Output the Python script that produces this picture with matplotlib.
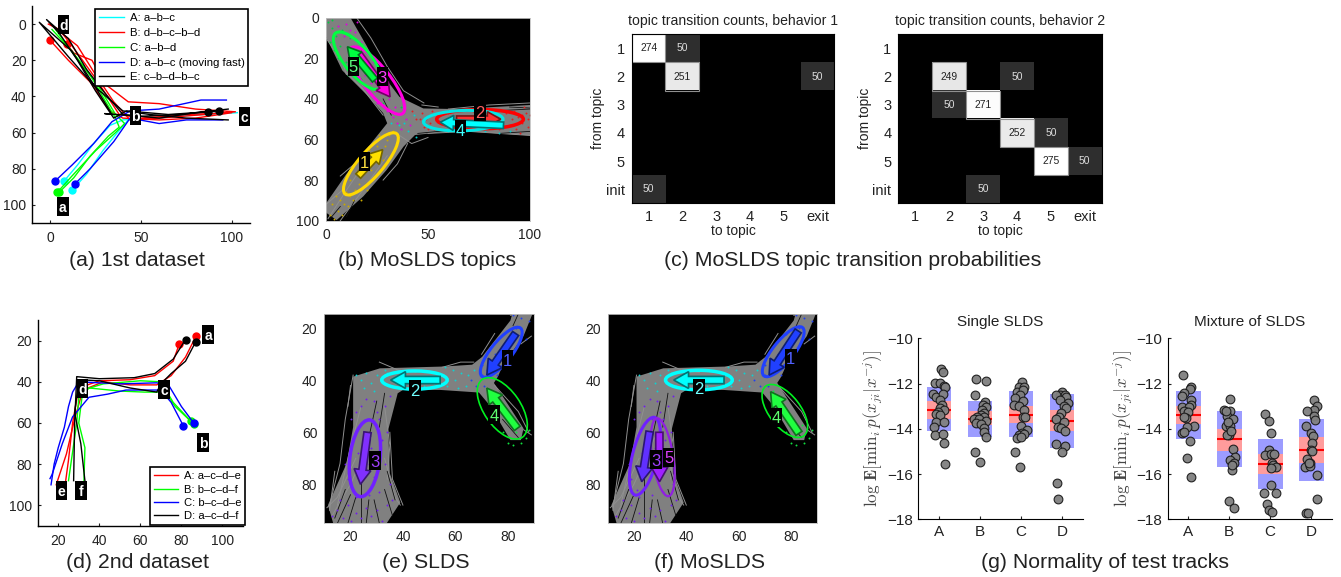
import numpy as np
import matplotlib
matplotlib.use('Agg')
import matplotlib.pyplot as plt
from matplotlib.patches import Ellipse, Rectangle
from matplotlib.transforms import ScaledTranslation

plt.rcParams['font.family'] = ['Liberation Sans', 'DejaVu Sans']
plt.rcParams['mathtext.fontset'] = 'cm'

W, H = 1341, 577

### panel a: example tracks, 1st dataset
a_tracks = {
    'A': [[(12,92),(20,83),(29,70),(37,60),(43,53),(55,52),(70,51),(85,50),(103,49)],
          [(7.5,87),(15,78),(24,66),(33,56),(40,53),(60,52),(80,50),(95,49)]],
    'B': [[(9,11),(13,16),(23,20),(30,33),(43,43),(60,44),(80,47),(102,48.5),(85,50),(60,52),(44,53),(35,43),(25,28),(15,12),(0,0)],
          [(0,9),(10,20),(22,32),(33,48),(40,52),(60,53),(80,52),(100,49),(75,50),(50,52),(38,50),(25,30),(12,12),(5,3),(-1,0)]],
    'C': [[(5,93),(13,85),(22,73),(32,62),(38,57),(36,52),(30,42),(22,28),(12,15),(1,3)],
          [(4,93),(12,84),(25,70),(36,60),(41,55),(36,50),(27,35),(17,22),(8,10),(3,3)]],
    'D': [[(2.5,87),(12,78),(24,66),(34,54),(44,48),(60,47),(83,42),(97,42)],
          [(13.5,88.5),(22,80),(35,65),(44,52),(60,55),(75,53),(95,53)]],
    'E': [[(93,48),(70,50),(50,51),(30,49.5),(34,50),(25,35),(12,15),(-6,-1),(10,18),(25,35),(40,48),(55,50),(75,52),(98,53)],
          [(87,48.5),(65,50),(42,48),(35,52),(25,37),(15,20),(5,5),(-2,-2.5),(10,8),(20,25),(30,38),(40,50),(60,52),(80,49),(98,47)]],
}
a_labels = {'A': 'A: a–b–c', 'B': 'B: d–b–c–b–d', 'C': 'C: a–b–d',
            'D': 'D: a–b–c (moving fast)', 'E': 'E: c–b–d–b–c'}
a_colors = {'A': '#00ffff', 'B': '#ff0000', 'C': '#00ff00', 'D': '#0000ff', 'E': '#000000'}
a_nodes = [('d', 7.4, 0.4), ('b', 47, 50.5), ('c', 107, 51), ('a', 7, 101)]

### panel d: example tracks, 2nd dataset
d_tracks = {
    'A': [[(87,18),(82,28),(75,37),(68,41.5),(55,41.5),(42,40),(32,44),(28,58),(24,75),(19,90)],
          [(79,21.5),(76,30),(67,37),(55,39),(40,39.5),(30,43),(27,60),(25,78),(23.5,89)]],
    'B': [[(84.5,59),(76,50),(70,40),(60,39.5),(42,41),(32,44),(30,60),(33,72),(32.5,89)],
          [(86,60.5),(77,52),(72,45),(62,45),(50,44.5),(35,43),(30,48),(29,60),(25,88)]],
    'C': [[(81,61.5),(75,50),(70,44),(53,44),(44,46),(35,47.5),(27,57),(22,70),(17,85),(16,87)],
          [(86,60),(80,52),(74,42),(68,40.5),(50,41),(30,40),(27,45),(25,52),(23,62),(20,72),(18,80),(16.5,90)]],
    'D': [[(82,19.5),(76,29),(67,36),(57,38),(40,38.5),(29,37.5),(28,60),(27.5,88)],
          [(87,20.5),(82,30),(75,36),(70,41),(68,45),(55,43),(40,39.5),(30,39),(28,55),(31,70),(33,88)]],
}
d_labels = {'A': 'A: a–c–d–e', 'B': 'B: b–c–d–f', 'C': 'C: b–c–d–e', 'D': 'D: a–c–d–f'}
d_colors = {'A': '#ff0000', 'B': '#00ff00', 'C': '#0000ff', 'D': '#000000'}
d_nodes = [('a', 93, 16.8), ('b', 90.6, 69.7), ('c', 71.6, 43.5), ('d', 31.9, 43.2), ('e', 21.6, 93), ('f', 31, 93)]

### panel b: training tracks and topics
b_band = [(0,0),(12,0),(20,14),(27,27),(36,39),(47.7,44.7),(64,45),(100,43),(100,58),(64,55.7),
          (43.6,57.8),(38,63.5),(29.7,75),(18.3,88),(5.2,99.7),(0,96),(0,91.5),(10,77),(30,52),
          (28,47),(20,38),(8,26),(0,9.4)]
b_fringe = [[(15,0),(22,10),(30,24),(38,36),(48,42)], [(1,99),(10,85),(20,70)], [(7,100),(18,85),(30,68)],
            [(40,62),(35,72),(28,80)], [(36,58),(42,62),(50,59)], [(47,43),(55,44)],
            [(100,42),(80,43),(60,45)], [(100,58),(70,56),(50,57)], [(0,92),(8,85)], [(10,27),(18,35),(28,48)],
            [(7,78),(14,72)], [(0,10),(8,22),(10,28)]]
b_dark = [[(45,57),(60,55.5),(80,54)], [(60,46),(80,46),(100,45)], [(28,40),(32,48)], [(2,99),(7,93)], [(10,98),(14,90)],
          [(90,44),(100,44.5)], [(85,57),(100,56)]]
b_dots = {
    '#c8a800': [(3,92),(6,95),(4,99),(9,92),(12,88),(14,85),(8,97),(2,97),(11,93),(16,82),(18,77),(20,85),(13,90),
                (22,75),(24,70),(27,66),(30,60),(25,63),(31,58),(28,70),(33,56),(19,68),(21,65),(26,58),(15,76),
                (7,90),(10,86),(17,90),(29,63),(23,79),(5,88),(12,80)],
    '#e02020': [(47,47),(49,50),(51,52),(48,54),(52,46),(55,48),(58,52),(46,50),(92,46),(94,49),(96,52),(98,47),
                (99,54),(93,55),(97,44),(95,57),(90,53),(99,50),(88,47),(91,50),(85,55),(100,48),(96,48),(80,45),
                (72,46),(60,47),(53,55),(50,55),(44,50),(42,46)],
    '#e000e0': [(10,3),(12,6),(15,2),(17,12),(20,16),(6,4),(23,22),(27,28),(22,32),(29,35),(19,28),(31,40),(25,42),
                (34,44),(37,47),(39,50),(35,52),(41,53),(37,55),(33,49),(30,46),(24,36),(14,7),(9,9),(27,37)],
    '#00d040': [(1,2),(3,5),(5,9),(2,12),(7,14),(4,16),(10,22),(14,26),(8,6),(17,30),(20,35),(33,47),(37,44),(11,28),
                (23,39),(28,42),(6,20),(3,1),(12,10),(26,33)],
    '#00d0d0': [(40,56),(36,53),(44,59),(43,48),(55,55),(60,56),(70,54),(78,56),(90,56),(48,51),(85,57),(38,52),
                (32,52),(65,46),(75,55)],
}
# center, long axis, short axis, angle, line width, color
b_ellipses = [((22,72),39,12,-49.5,2.2,'#ffd800'), ((75.5,50),42.5,9.5,0,2.5,'#ff0000'),
              ((25,31),41,13,52,2.2,'#ff00e0'), ((67.3,50.7),39,10,-2,2.2,'#00e8e8'),
              ((15.7,21.2),35,13,51,2.2,'#00ff40')]
b_arrows = [((15.8,78),(27.8,65),'#ffe000'), ((64,50),(85.6,50),'#ff3030'), ((16,17.6),(31.4,39),'#ff00e0'),
            ((87,53),(56,51.5),'#00ffff'), ((24,30.7),(10.5,14.3),'#00ff40')]
b_tags = [('1',19,71,'#ffe040'), ('2',75.5,46.3,'#ff6060'), ('3',27.6,29,'#ff40ff'),
          ('4',66,55.3,'#40ffff'), ('5',13.4,24,'#60ff80')]

### panel c: transition counts
to_names = ['1', '2', '3', '4', '5', 'exit']
from_names = ['1', '2', '3', '4', '5', 'init']
counts1 = np.array([[274, 50, 0, 0, 0, 0],
                    [0, 251, 0, 0, 0, 50],
                    [0, 0, 0, 0, 0, 0],
                    [0, 0, 0, 0, 0, 0],
                    [0, 0, 0, 0, 0, 0],
                    [50, 0, 0, 0, 0, 0]])
counts2 = np.array([[0, 0, 0, 0, 0, 0],
                    [0, 249, 0, 50, 0, 0],
                    [0, 50, 271, 0, 0, 0],
                    [0, 0, 0, 252, 50, 0],
                    [0, 0, 0, 0, 275, 50],
                    [0, 0, 50, 0, 0, 0]])

### panels e, f: training tracks of the 2nd dataset
e_band = [(81.7,14.5),(89.4,14.5),(86,23),(78.5,33.5),(76,39),(74.7,41),(86,58.5),(85,63),(81,63),(73.4,50),
          (69,44.7),(54.2,43.7),(40,43.7),(38,45),(34.4,59),(35,75.8),(39,87),(33.8,95),(13.4,95),(11.4,88),
          (18.5,72),(21,58),(21,38.6),(31.2,35.4),(55.5,34.7),(66.4,34),(70.2,31),(81,17)]
e_fringe = [[(31,33),(38,36),(45,37)], [(55,35),(62,33),(67,33)], [(21,38),(18,55),(16,72),(12,88)],
            [(14,75),(12,90)], [(35,60),(36,78),(40,88)], [(85,26),(89,23)], [(86,59),(89,61)],
            [(81,15),(85,14.5)], [(70,30),(75,22)], [(75,42),(84,52),(88,60)],
            [(28,62),(20,80),(13,92)], [(22,70),(15,85),(11,89)], [(33,70),(37,85),(39,88)],
            [(24,50),(19,70),(15,88)], [(33,50),(35,65),(34,78)], [(20,42),(19,50)]]
e_dark = [[(30,48),(27,62)], [(24,78),(24,95)], [(33,45),(31,58)], [(78,55),(84,62)], [(15,95),(20,84)],
          [(36,92),(33,82)], [(26,95),(27,86)], [(19,95),(22,85)], [(31,95),(29,86)], [(84,14.5),(82,19)],
          [(14,93),(18,82)], [(34,75),(37,86)]]
e_dots = {
    '#7020e8': [(13,92),(15,90),(17,93),(19,88),(20,94),(22,91),(24,93),(26,89),(28,92),(30,90),(32,94),(34,88),
                (36,86),(16,86),(22,85),(27,84),(31,83),(35,80),(19,78),(24,76),(29,77),(33,72),(18,72),(23,68),
                (28,66),(32,63),(25,60),(21,62),(27,55),(30,52),(24,50),(33,50),(26,47),(29,48),(22,52),(35,46),
                (31,55),(20,55),(34,60),(27,72),(21,82)],
    '#10d0d0': [(22,38),(24,40),(26,37),(28,41),(30,38),(32,40),(34,37),(36,42),(25,43),(29,44),(33,36),(40,37),
                (55,38),(57,42),(59,36),(60,40),(62,37),(64,42),(56,35),(65,38),(61,43),(52,41),(67,36),(48,42)],
    '#2040f0': [(82,15),(85,16),(88,17),(83,20),(87,24),(78,22),(75,30),(72,36),(70,38),(68,42),(66,40),(70,34),
                (79,30),(76,38),(71,42)],
    '#10e040': [(73,44),(76,48),(80,55),(83,60),(85,64),(80,64),(87,62),(82,65),(78,60),(75,52),(88,59),(84,57)],
}
e_ellipses = [((77.5,29.2),23.7,8,-51.7,2.2,'#2040ff'), ((44.4,39.9),25,7,0,2.5,'#00ffff'),
              ((25.5,70),29.7,11.5,97,2.5,'#7020ff'), ((77.9,50.8),27,14,55.7,1.2,'#00f020')]
e_arrows = [((83,22),(72,38),'#2040ff'), ((54.2,39.9),(35.3,39.9),'#00ffff'),
            ((26.5,60),(23.8,80),'#8030ff'), ((83.6,58.5),(72,43),'#20ff40')]
e_tags = [('1',80,32,'#5060ff'), ('2',44.6,43.7,'#70ffff'), ('3',29.3,71,'#a040ff'), ('4',74.7,53.3,'#60ff70')]

f_ellipses = [((77,29),23.7,8,-51.7,2.2,'#2040ff'), ((44.8,39.9),25.5,7.5,0,2.5,'#00ffff'),
              ((24.2,69.2),30.8,9.5,103.9,2.2,'#7020ff'), ((31,69.6),30.3,8,81.5,1.6,'#9020e0'),
              ((77.6,51.8),24,12,52.6,1.2,'#00f020')]
f_arrows = [((82.7,21),(71.6,38),'#2040ff'), ((54.4,39.9),(35.2,39.9),'#00ffff'), ((26,59.7),(23,79),'#6030ff'),
            ((29.7,60),(29.8,79),'#a020ff'), ((83,60.4),(72.2,44.4),'#20ff40')]
f_tags = [('1',79.9,31.5,'#5060ff'), ('2',44.8,43,'#70ffff'), ('3',28.4,70.6,'#a040ff'),
          ('5',33.3,69.6,'#e040ff'), ('4',74.4,54.2,'#60ff70')]

### panel g: normality of test tracks
groups = ['A', 'B', 'C', 'D']
g1_mean = [-13.15, -13.55, -13.4, -13.65]
g1_std = [(-12.15, -14.1), (-12.75, -14.35), (-12.35, -14.35), (-12.45, -14.85)]
g1_sem = [(-12.75, -13.55), (-13.2, -13.85), (-13.0, -13.75), (-13.15, -14.1)]
g2_mean = [-13.4, -14.45, -15.55, -14.95]
g2_std = [(-12.35, -14.45), (-13.2, -15.7), (-14.45, -16.65), (-13.55, -16.3)]
g2_sem = [(-13.0, -13.8), (-14.0, -15.0), (-15.1, -16.0), (-14.35, -15.5)]

g1_off = [[.05,.09,-.09,.02,.12,.16,-.14,-.06,.10,.04,.08,.04,.12,-.02,-.08,.04,-.08,.12,-.12,-.10,.10,.12,.14],
          [-.09,.15,-.13,.12,.08,.14,.06,.11,.02,-.08,.10,-.15,-.02,.14,-.1,.03,.11,.1,.14,-.11,0],
          [.02,-.06,.07,-.1,.04,-.02,-.15,.04,-.17,-.04,.07,.04,.1,0,.14,.02,-.04,.06,-.1,0,-.15,-.02],
          [0,-.06,.06,-.14,.1,-.06,.15,.04,.1,-.02,-.07,-.14,.04,-.1,-.04,.06,-.15,.08,0,-.12,-.09]]
g1_val = [[-11.35,-11.49,-11.99,-11.99,-12.11,-12.14,-12.46,-12.58,-12.47,-12.72,-12.95,-13.09,-13.17,-13.24,-13.34,-13.39,-13.68,-13.71,-13.93,-14.27,-14.21,-14.64,-15.54],
          [-11.8,-11.87,-12.52,-12.8,-12.95,-13.05,-13.17,-13.28,-13.39,-13.46,-13.49,-13.58,-13.58,-13.64,-13.76,-13.78,-13.98,-14.12,-14.37,-15.01,-15.48],
          [-11.91,-12.16,-12.16,-12.36,-12.28,-12.5,-12.65,-12.77,-12.95,-12.99,-13.17,-13.46,-13.46,-13.87,-14.05,-14.2,-14.27,-14.23,-14.42,-14.37,-15.02,-15.7],
          [-12.36,-12.5,-12.5,-12.5,-12.58,-12.72,-12.87,-12.99,-13.09,-13.31,-13.46,-13.58,-13.68,-13.9,-13.98,-14.08,-14.67,-14.74,-15.04,-16.39,-17.1]]
g2_off = [[-.13,.08,.05,-.1,-.14,.08,.06,-.14,.02,-.1,0,-.06,-.1,.13,-.03,-.14,-.11,.05,-.03,.06],
          [.03,-.13,.02,-.05,.1,-.09,.02,0,-.06,.1,.15,.03,.11,.07,0,.12,.05,-.03,-.09,.07],
          [-.12,-.04,.01,-.04,-.12,.02,.1,.04,.08,.15,.02,.02,-.15,.14,-.08,-.04,.04],
          [.06,.14,.08,-.1,.06,.1,-.13,0,.04,.02,0,.02,-.1,-.02,-.15,-.04,-.06,.14,.14,-.13,-.07]]
g2_val = [[-11.64,-12.16,-12.25,-12.42,-12.54,-12.72,-12.94,-13.04,-13.04,-13.23,-13.26,-13.52,-13.48,-13.86,-13.92,-14.18,-14.14,-14.55,-15.29,-16.12],
          [-12.67,-13.16,-13.23,-13.45,-13.57,-13.89,-13.86,-14.26,-14.26,-14.89,-15.26,-15.39,-15.51,-15.83,-17.17,-17.52,-14.11,-13.71,-13.23,-15.58],
          [-13.35,-13.67,-14.18,-14.92,-15.14,-15.1,-15.1,-15.51,-15.62,-15.7,-15.73,-16.49,-16.83,-16.83,-17.33,-17.59,-17.67],
          [-12.72,-12.98,-13.16,-13.2,-13.45,-13.6,-13.89,-14.18,-14.33,-14.63,-14.92,-14.99,-15.33,-15.51,-15.7,-15.65,-15.51,-16.02,-17.12,-17.71,-17.71]]
g_ylabel = r'$\log\,\mathbf{E}[\mathrm{min}_i\,p(x_{ji}|x^{-j})]$'

captions = [('(a) 1st dataset', 137, 261), ('(b) MoSLDS topics', 427, 261),
            ('(c) MoSLDS topic transition probabilities', 853, 261), ('(d) 2nd dataset', 137, 563),
            ('(e) SLDS', 426, 563), ('(f) MoSLDS', 710, 563), ('(g) Normality of test tracks', 1105, 563)]

fig = plt.figure(figsize=(W / 100, H / 100), dpi=100)

def axpx(l, t, r, b):
    return fig.add_axes([l / W, 1 - b / H, (r - l) / W, (b - t) / H])

def tag(ax, s, x, y, color='white', size=11, weight='normal'):
    # black box of fixed size on screen, centered on a data point
    trans = fig.dpi_scale_trans + ScaledTranslation(x, y, ax.transData)
    ax.add_patch(Rectangle((-0.057, -0.095), 0.114, 0.19, transform=trans, fc='black', ec='none',
                           zorder=19, clip_on=False))
    ax.text(x, y, s, color=color, fontsize=size, weight=weight, ha='center', va='center_baseline', zorder=20,
            clip_on=False)

def tracks_panel(ax, tracks, colors, labels, nodes, bbox, fsize, spacing):
    for key in tracks:
        for n, tr in enumerate(tracks[key]):
            tr = np.array(tr)
            ax.plot(tr[:, 0], tr[:, 1], color=colors[key], lw=1.0, label=labels[key] if n == 0 else None)
            ax.plot(tr[0, 0], tr[0, 1], 'o', color=colors[key], ms=5, mec=colors[key])
    for s, x, y in nodes:
        tag(ax, s, x, y, size=10, weight='bold')
    ax.spines['top'].set_visible(False)
    ax.spines['right'].set_visible(False)
    for sp in ['left', 'bottom']:
        ax.spines[sp].set_linewidth(1.0)
    ax.tick_params(direction='in', length=2.5, labelsize=10, colors='#222222')
    ax.tick_params(axis='y', pad=4)
    ax.tick_params(axis='x', pad=6)
    leg = ax.legend(loc='upper left', bbox_to_anchor=bbox, borderaxespad=0, fontsize=fsize, frameon=True,
                    fancybox=False, edgecolor='black', framealpha=1, handlelength=2.2, labelspacing=spacing,
                    borderpad=0.35, handletextpad=0.5)
    leg.get_frame().set_linewidth(1.2)
    leg.set_zorder(30)

def topic_panel(ax, band, fringe, dark, dots, ellipses, arrows, tags, scale):
    ax.set_facecolor('black')
    ax.fill([p[0] for p in band], [p[1] for p in band], color='#808080', lw=0)
    for tr in fringe:
        ax.plot([p[0] for p in tr], [p[1] for p in tr], color='#909090', lw=0.7)
    for tr in dark:
        ax.plot([p[0] for p in tr], [p[1] for p in tr], color='#101010', lw=0.6)
    for col in dots:
        ax.plot([p[0] for p in dots[col]], [p[1] for p in dots[col]], '.', color=col, ms=2.8, mew=0)
    for c, w, h, ang, lw, col in ellipses:
        ax.add_patch(Ellipse(c, w, h, angle=ang, fill=False, ec=col, lw=lw, zorder=5))
    for start, end, col in arrows:
        edge = tuple(0.45 * v for v in matplotlib.colors.to_rgb(col))
        ax.arrow(start[0], start[1], end[0] - start[0], end[1] - start[1], width=3.2 * scale,
                 head_width=7.4 * scale, head_length=6.5 * scale, length_includes_head=True,
                 fc=col, ec=edge, lw=1.2, zorder=6)
    for s, x, y, col in tags:
        tag(ax, s, x, y, color=col, size=12)
    ax.tick_params(length=0, labelsize=10, pad=5, colors='#222222')
    for sp in ax.spines.values():
        sp.set_color('#c0c0c0')
        sp.set_linewidth(0.6)

def count_panel(ax, counts, title):
    ax.imshow(counts, cmap='gray', vmin=0, vmax=275, aspect='auto', interpolation='nearest')
    for i in range(6):
        for j in range(6):
            if counts[i, j] > 0:
                ax.text(j, i, str(counts[i, j]), fontsize=7.4, ha='center', va='center',
                        color='#222222' if counts[i, j] > 150 else '#dddddd')
            if counts[i, j] > 150:
                ax.add_patch(Rectangle((j - 0.5, i - 0.5), 1, 1, fill=False, ec='#909090', lw=0.8))
    ax.set_xticks(range(6), to_names)
    ax.set_yticks(range(6), from_names)
    ax.tick_params(length=0, labelsize=10.5, pad=5, colors='#222222')
    ax.set_xlabel('to topic', fontsize=10, labelpad=0, color='#222222')
    ax.set_ylabel('from topic', fontsize=10, color='#222222')
    ax.yaxis.set_label_coords(-0.13, 0.5)
    ax.set_title(title, fontsize=10.1, pad=7, color='#222222')

def norm_panel(ax, mean, std, sem, off, val, title):
    xs = np.arange(1, 5)
    ax.bar(xs, [s[0] - s[1] for s in std], bottom=[s[1] for s in std], width=0.6, color='#9c9cff', lw=0)
    ax.bar(xs, [s[0] - s[1] for s in sem], bottom=[s[1] for s in sem], width=0.6, color='#ff9c9c', lw=0)
    ax.hlines(mean, xs - 0.3, xs + 0.3, color='#ff0000', lw=1.5, zorder=3)
    for i in range(4):
        ax.plot(xs[i] + np.array(off[i]), val[i], 'o', ms=6.3, mfc='#808080', mec='#1a1a1a', mew=0.8,
                alpha=0.95, zorder=4, clip_on=False)
    ax.set_xlim(0.5, 4.5)
    ax.set_ylim(-18, -10)
    ax.set_xticks(xs, groups)
    ax.set_yticks([-18, -16, -14, -12, -10])
    ax.spines['top'].set_visible(False)
    ax.spines['right'].set_visible(False)
    ax.tick_params(direction='in', length=2.5, labelsize=11, pad=4, colors='#222222')
    ax.set_ylabel(g_ylabel, fontsize=12.3, color='#444444')
    ax.yaxis.set_label_coords(-0.2, 0.5)
    ax.set_title(title, fontsize=11, pad=9, color='#222222')

# (a)
ax = axpx(32, 6, 250, 223)
ax.set_xlim(-10, 110)
ax.set_ylim(110, -10)
ax.set_xticks([0, 50, 100])
ax.set_yticks(range(0, 101, 20))
tracks_panel(ax, a_tracks, a_colors, a_labels, a_nodes, (0.288, 0.985), 8.2, 0.42)

# (b)
ax = axpx(326, 17.7, 530, 220.7)
ax.set_xlim(0, 100)
ax.set_ylim(100, 0)
ax.set_xticks([0, 50, 100])
ax.set_yticks(range(0, 101, 20))
topic_panel(ax, b_band, b_fringe, b_dark, b_dots, b_ellipses, b_arrows, b_tags, 1.0)

# (c)
count_panel(axpx(631.7, 34.3, 834.3, 203.3), counts1, 'topic transition counts, behavior 1')
count_panel(axpx(898.3, 34.3, 1101.7, 203.3), counts2, 'topic transition counts, behavior 2')

# (d)
ax = axpx(37.7, 320, 243, 526)
ax.set_xlim(10, 110)
ax.set_ylim(110, 10)
ax.set_xticks(range(20, 101, 20))
ax.set_yticks(range(20, 101, 20))
tracks_panel(ax, d_tracks, d_colors, d_labels, d_nodes, (0.545, 0.285), 8.1, 0.3)

# (e), (f)
for rect, ell, arr, tg in [((324.3, 314, 534, 523.3), e_ellipses, e_arrows, e_tags),
                           ((607.7, 314, 817.3, 523.3), f_ellipses, f_arrows, f_tags)]:
    ax = axpx(*rect)
    ax.set_xlim(10, 90)
    ax.set_ylim(95, 14.5)
    ax.set_xticks(range(20, 81, 20))
    ax.set_yticks(range(20, 81, 20))
    topic_panel(ax, e_band, e_fringe, e_dark, e_dots, ell, arr, tg, 0.87)

# (g)
norm_panel(axpx(918.3, 338.3, 1082.7, 519.3), g1_mean, g1_std, g1_sem, g1_off, g1_val, 'Single SLDS')
norm_panel(axpx(1167.7, 338.3, 1331.7, 519.3), g2_mean, g2_std, g2_sem, g2_off, g2_val, 'Mixture of SLDS')

for s, x, y in captions:
    fig.text(x / W, 1 - y / H, s, fontsize=15.3, ha='center', va='center', color='#222222')

fig.savefig('out.png', dpi=100)
